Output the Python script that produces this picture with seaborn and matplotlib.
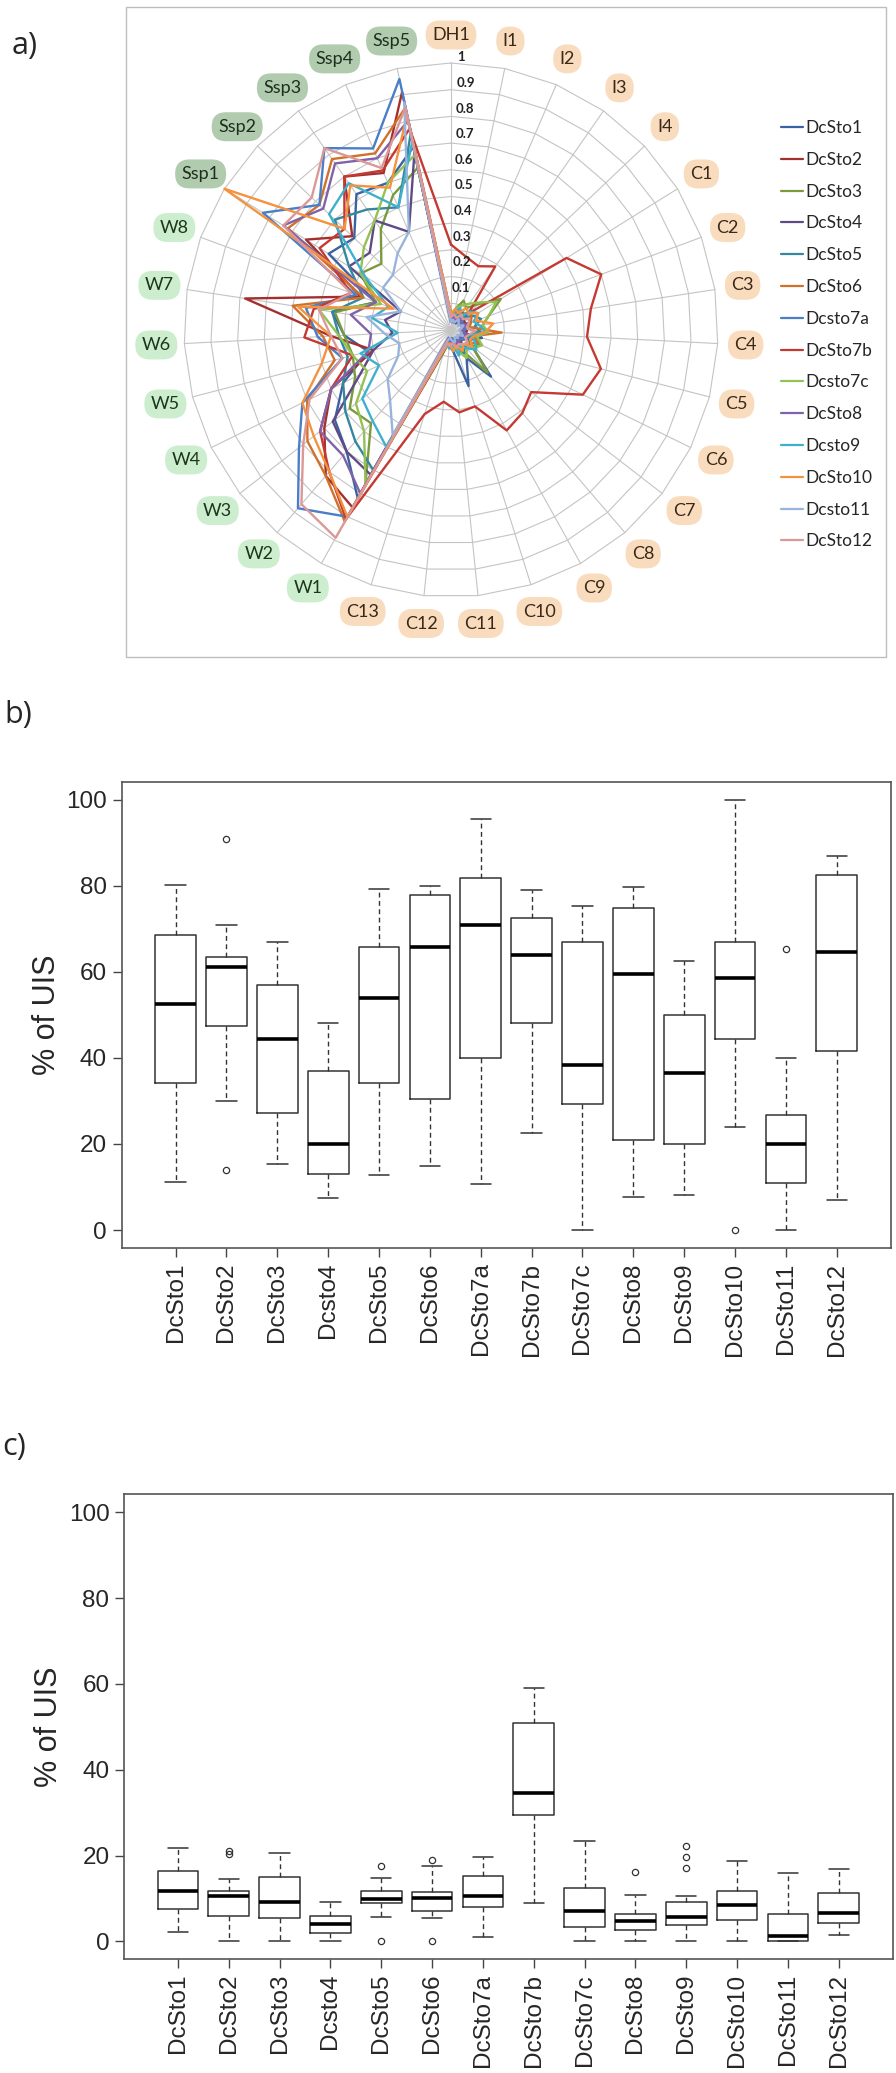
import numpy as np
import pandas as pd
import matplotlib
matplotlib.use('Agg')
import matplotlib.pyplot as plt
import seaborn as sns
from matplotlib.lines import Line2D
from matplotlib.patches import Rectangle

# ---------------- panel a: radar profiles ----------------
axis_labels = ['DH1', 'I1', 'I2', 'I3', 'I4',
               'C1', 'C2', 'C3', 'C4', 'C5', 'C6', 'C7', 'C8', 'C9', 'C10', 'C11', 'C12', 'C13',
               'W1', 'W2', 'W3', 'W4', 'W5', 'W6', 'W7', 'W8',
               'Ssp1', 'Ssp2', 'Ssp3', 'Ssp4', 'Ssp5']

series_names = ['DcSto1', 'DcSto2', 'DcSto3', 'DcSto4', 'DcSto5', 'DcSto6', 'Dcsto7a',
                'DcSto7b', 'Dcsto7c', 'DcSto8', 'Dcsto9', 'DcSto10', 'Dcsto11', 'DcSto12']
series_colors = ['#3b62a0', '#a3302e', '#7a9a3c', '#5f4a85', '#35869e', '#d0712a', '#4a7ec8',
                 '#c43a32', '#93c152', '#8062a8', '#3fb0cc', '#f5923e', '#98b4dc', '#dc9896']

dcsto1 = [0.04, 0.06, 0.03, 0.05, 0.08, 0.05, 0.07, 0.06, 0.09, 0.12, 0.08, 0.10, 0.23, 0.12, 0.22, 0.08, 0.06, 0.05,
          0.72, 0.60, 0.55, 0.45, 0.32, 0.40, 0.45, 0.30, 0.54, 0.50, 0.62, 0.60, 0.70]
dcsto2 = [0.06, 0.04, 0.03, 0.05, 0.04, 0.06, 0.05, 0.04, 0.06, 0.05, 0.04, 0.06, 0.05, 0.04, 0.06, 0.05, 0.04, 0.08,
          0.76, 0.72, 0.60, 0.50, 0.30, 0.45, 0.78, 0.36, 0.64, 0.51, 0.70, 0.64, 0.91]
dcsto3 = [0.05, 0.08, 0.12, 0.10, 0.14, 0.22, 0.15, 0.12, 0.10, 0.08, 0.12, 0.10, 0.21, 0.09, 0.07, 0.06, 0.05, 0.06,
          0.66, 0.46, 0.48, 0.40, 0.38, 0.40, 0.44, 0.30, 0.40, 0.36, 0.46, 0.55, 0.62]
dcsto4 = [0.03, 0.04, 0.05, 0.03, 0.06, 0.04, 0.05, 0.06, 0.04, 0.07, 0.05, 0.04, 0.06, 0.05, 0.04, 0.03, 0.05, 0.04,
          0.62, 0.60, 0.56, 0.38, 0.30, 0.22, 0.25, 0.20, 0.45, 0.42, 0.50, 0.40, 0.68]
dcsto5 = [0.04, 0.05, 0.06, 0.08, 0.07, 0.10, 0.12, 0.09, 0.11, 0.08, 0.07, 0.09, 0.08, 0.10, 0.07, 0.05, 0.06, 0.05,
          0.60, 0.55, 0.50, 0.45, 0.40, 0.42, 0.45, 0.35, 0.45, 0.60, 0.55, 0.50, 0.75]
dcsto6 = [0.05, 0.06, 0.08, 0.07, 0.10, 0.09, 0.08, 0.07, 0.19, 0.09, 0.11, 0.08, 0.07, 0.06, 0.08, 0.07, 0.05, 0.06,
          0.82, 0.72, 0.68, 0.60, 0.45, 0.48, 0.60, 0.35, 0.72, 0.68, 0.78, 0.72, 0.85]
dcsto7a = [0.04, 0.03, 0.05, 0.04, 0.06, 0.05, 0.04, 0.06, 0.05, 0.04, 0.05, 0.06, 0.04, 0.05, 0.04, 0.03, 0.04, 0.05,
           0.80, 0.88, 0.72, 0.62, 0.42, 0.50, 0.55, 0.38, 0.83, 0.68, 0.83, 0.74, 0.96]
dcsto7b = [0.32, 0.28, 0.26, 0.29, 0.09, 0.51, 0.60, 0.53, 0.51, 0.58, 0.55, 0.38, 0.41, 0.43, 0.30, 0.31, 0.27, 0.33,
           0.81, 0.70, 0.62, 0.50, 0.38, 0.55, 0.52, 0.40, 0.58, 0.55, 0.70, 0.65, 0.77]
dcsto7c = [0.06, 0.08, 0.10, 0.12, 0.15, 0.20, 0.15, 0.12, 0.14, 0.10, 0.13, 0.11, 0.09, 0.12, 0.08, 0.07, 0.06, 0.07,
           0.66, 0.50, 0.45, 0.35, 0.38, 0.42, 0.50, 0.28, 0.40, 0.45, 0.50, 0.60, 0.67]
dcsto8 = [0.03, 0.05, 0.04, 0.06, 0.05, 0.04, 0.06, 0.05, 0.04, 0.06, 0.05, 0.04, 0.05, 0.06, 0.04, 0.05, 0.04, 0.03,
          0.70, 0.62, 0.62, 0.50, 0.32, 0.30, 0.38, 0.30, 0.74, 0.66, 0.76, 0.70, 0.80]
dcsto9 = [0.05, 0.07, 0.09, 0.06, 0.10, 0.12, 0.09, 0.11, 0.13, 0.08, 0.10, 0.12, 0.09, 0.07, 0.10, 0.06, 0.07, 0.05,
          0.50, 0.45, 0.42, 0.30, 0.35, 0.20, 0.30, 0.25, 0.38, 0.63, 0.67, 0.50, 0.72]
dcsto10 = [0.06, 0.08, 0.07, 0.10, 0.09, 0.12, 0.10, 0.16, 0.13, 0.09, 0.08, 0.10, 0.07, 0.09, 0.06, 0.08, 0.05, 0.06,
           0.80, 0.70, 0.65, 0.62, 0.50, 0.45, 0.58, 0.23, 1.00, 0.55, 0.66, 0.58, 0.82]
dcsto11 = [0.03, 0.04, 0.03, 0.05, 0.04, 0.03, 0.05, 0.04, 0.03, 0.04, 0.05, 0.03, 0.04, 0.03, 0.05, 0.04, 0.03, 0.04,
           0.45, 0.35, 0.30, 0.22, 0.20, 0.25, 0.32, 0.20, 0.30, 0.30, 0.35, 0.40, 0.87]
dcsto12 = [0.05, 0.06, 0.05, 0.07, 0.06, 0.08, 0.07, 0.06, 0.09, 0.07, 0.06, 0.08, 0.07, 0.06, 0.07, 0.05, 0.06, 0.05,
           0.89, 0.86, 0.70, 0.59, 0.42, 0.45, 0.50, 0.40, 0.74, 0.72, 0.83, 0.66, 0.85]

radar_values = [dcsto1, dcsto2, dcsto3, dcsto4, dcsto5, dcsto6, dcsto7a,
                dcsto7b, dcsto7c, dcsto8, dcsto9, dcsto10, dcsto11, dcsto12]

# ---------------- panels b / c: box statistics ----------------
box_names = ['DcSto1', 'DcSto2', 'DcSto3', 'Dcsto4', 'DcSto5', 'DcSto6', 'DcSto7a',
             'DcSto7b', 'DcSto7c', 'DcSto8', 'DcSto9', 'DcSto10', 'DcSto11', 'DcSto12']

b_low  = [11.1, 30.0, 15.4, 7.4, 12.7, 15.0, 10.7, 22.6, 0.0, 7.8, 8.2, 23.9, 0.0, 6.9]
b_q1   = [34.2, 47.3, 27.2, 13.1, 34.1, 30.5, 40.0, 48.1, 29.2, 20.9, 19.9, 44.5, 11.0, 41.5]
b_med  = [52.5, 61.0, 44.4, 20.0, 53.9, 65.7, 70.8, 63.9, 38.4, 59.4, 36.5, 58.5, 20.0, 64.6]
b_q3   = [68.5, 63.5, 56.9, 37.0, 65.7, 77.8, 81.9, 72.4, 66.9, 74.8, 50.0, 66.9, 26.7, 82.6]
b_high = [80.2, 70.8, 66.9, 48.0, 79.3, 79.9, 95.4, 79.1, 75.2, 79.8, 62.5, 100.0, 40.0, 86.8]
b_fliers = [[], [90.9, 13.9], [], [], [], [], [], [], [], [], [], [0.0], [65.2], []]

c_low  = [2.2, 0.0, 0.0, 0.0, 5.7, 5.4, 1.1, 8.9, 0.0, 0.0, 0.0, 0.0, 0.0, 1.6]
c_q1   = [7.6, 5.9, 5.5, 1.9, 9.0, 7.1, 8.1, 29.4, 3.3, 2.6, 3.9, 5.1, 0.0, 4.3]
c_med  = [11.7, 10.7, 9.3, 4.1, 9.8, 10.1, 10.5, 34.5, 7.2, 4.8, 5.6, 8.5, 1.2, 6.7]
c_q3   = [16.3, 11.7, 15.0, 6.0, 11.8, 11.5, 15.3, 51.0, 12.4, 6.3, 9.1, 11.7, 6.4, 11.3]
c_high = [21.8, 14.6, 20.6, 9.3, 14.8, 17.5, 19.7, 59.0, 23.3, 10.9, 10.5, 18.8, 15.9, 16.9]
c_fliers = [[], [20.4, 21.0], [], [], [17.5, 0.0], [19.0, 0.0], [], [], [], [16.1], [22.2, 19.6, 17.2], [], [], []]

W, H = 896, 2073
fig = plt.figure(figsize=(W / 100, H / 100), dpi=100)
sns.set_style('white')
plt.rcParams['font.family'] = ['Liberation Sans', 'DejaVu Sans']

# ---------------- panel a ----------------
fig.add_artist(Rectangle((126 / W, 1 - 657 / H), 760 / W, 650 / H, transform=fig.transFigure,
                         fill=False, edgecolor='#bdbdbd', lw=1.0))

cx, cy, R = 451, 330, 267
axr = fig.add_axes([(cx - R) / W, 1 - (cy + R) / H, 2 * R / W, 2 * R / H], projection='polar')
axr.set_theta_zero_location('N')
axr.set_theta_direction(-1)
axr.set_facecolor('none')
axr.grid(False)
axr.spines['polar'].set_visible(False)

n_ax = len(axis_labels)
theta = np.linspace(0, 2 * np.pi, n_ax, endpoint=False)
theta_closed = np.append(theta, 2 * np.pi)

grid_c = '#c4c4c4'
for t in theta:
    axr.plot([t, t], [0, 1], color=grid_c, lw=0.8, zorder=0, clip_on=False)
for r in np.arange(1, 11) / 10:
    axr.plot(theta_closed, [r] * len(theta_closed), color=grid_c, lw=0.8, zorder=0, clip_on=False)

rows = []
for name, vals in zip(series_names, radar_values):
    for t, v in zip(theta_closed, list(vals) + [vals[0]]):
        rows.append((name, t, v))
radar_df = pd.DataFrame(rows, columns=['series', 'theta', 'value'])

sns.lineplot(data=radar_df, x='theta', y='value', hue='series', hue_order=series_names,
             palette=dict(zip(series_names, series_colors)), sort=False, estimator=None,
             legend=False, lw=1.7, ax=axr)
for ln in axr.get_lines():
    ln.set_clip_on(False)
axr.set_ylim(0, 1)
axr.set_xticks([])
axr.set_yticks([])
axr.set_xlabel('')
axr.set_ylabel('')

# radial value labels sit just right of the DH1 spoke
for k in range(1, 11):
    lab = '1' if k == 10 else f'0.{k}'
    axr.text(np.deg2rad(1.3), 0.0961 * k + 0.061, lab, fontsize=9.5, ha='left', va='center',
             family=['Lato', 'DejaVu Sans'], fontweight='bold', color='#222222')

for t, lab in zip(theta, axis_labels):
    if lab.startswith('Ssp'):
        fc, tc = '#a3c2a0', '#1d2e1d'
    elif lab.startswith('W'):
        fc, tc = '#c3ecc6', '#1c361e'
    else:
        fc, tc = '#f8d6b3', '#3a2818'
    axr.text(t, 1.105, lab, ha='center', va='center', fontsize=13, color=tc,
             family=['Lato', 'DejaVu Sans'],
             bbox=dict(boxstyle='round,pad=0.36,rounding_size=0.8', fc=fc, ec='none', alpha=0.85))

handles = [Line2D([0], [0], color=c, lw=1.6) for c in series_colors]
fig.legend(handles, series_names, loc='upper left', bbox_to_anchor=(781 / W, 1 - 120 / H),
           frameon=False, handlelength=1.25, handletextpad=0.15, labelspacing=0.91,
           borderpad=0, borderaxespad=0, prop={'family': 'Lato', 'size': 12.5})

fig.text(12 / W, 1 - 46 / H, 'a)', ha='left', va='center', fontsize=22, family='Open Sans')


# ---------------- panels b / c ----------------
def draw_boxes(ax, low, q1, med, q3, high, fliers):
    stats = [dict(label=n, whislo=a, q1=b, med=m, q3=c, whishi=d, fliers=f)
             for n, a, b, m, c, d, f in zip(box_names, low, q1, med, q3, high, fliers)]
    ax.bxp(stats, positions=range(1, len(stats) + 1), widths=0.8, capwidths=0.4,
           showfliers=True, patch_artist=False,
           boxprops=dict(color='#333333', lw=1.1),
           medianprops=dict(color='black', lw=2.6, solid_capstyle='butt'),
           whiskerprops=dict(color='#333333', lw=1.0, linestyle=(0, (3.5, 2.5))),
           capprops=dict(color='#333333', lw=1.1),
           flierprops=dict(marker='o', markersize=4.5, markerfacecolor='none',
                           markeredgecolor='#333333', markeredgewidth=0.9))
    ax.set_xlim(-0.06, 15.06)
    ax.set_ylim(-4.16, 104.16)
    ax.set_yticks([0, 20, 40, 60, 80, 100])
    ax.set_xticks(range(1, len(stats) + 1))
    ax.set_xticklabels(box_names, rotation=90, fontsize=17.5)
    ax.tick_params(axis='y', labelsize=17.5)
    ax.tick_params(direction='out', length=6.5, width=1.0, color='#444444', pad=4, left=True, bottom=True)
    for s in ax.spines.values():
        s.set_visible(True)
        s.set_color('#555555')
        s.set_linewidth(1.2)
    ax.set_ylabel('% of UIS', fontsize=22, va='center')
    ax.yaxis.set_label_coords(-0.097, 0.5)
    ax.set_facecolor('white')


axb = fig.add_axes([121.7 / W, 1 - 1248 / H, 769 / W, 466.3 / H])
draw_boxes(axb, b_low, b_q1, b_med, b_q3, b_high, b_fliers)
fig.text(4 / W, 1 - 715 / H, 'b)', ha='left', va='center', fontsize=22, family='Open Sans')

axc = fig.add_axes([124 / W, 1 - 1959.3 / H, 768.7 / W, 465 / H])
draw_boxes(axc, c_low, c_q1, c_med, c_q3, c_high, c_fliers)
fig.text(2 / W, 1 - 1447 / H, 'c)', ha='left', va='center', fontsize=22, family='Open Sans')

fig.savefig('out.png', dpi=100, facecolor='white')
